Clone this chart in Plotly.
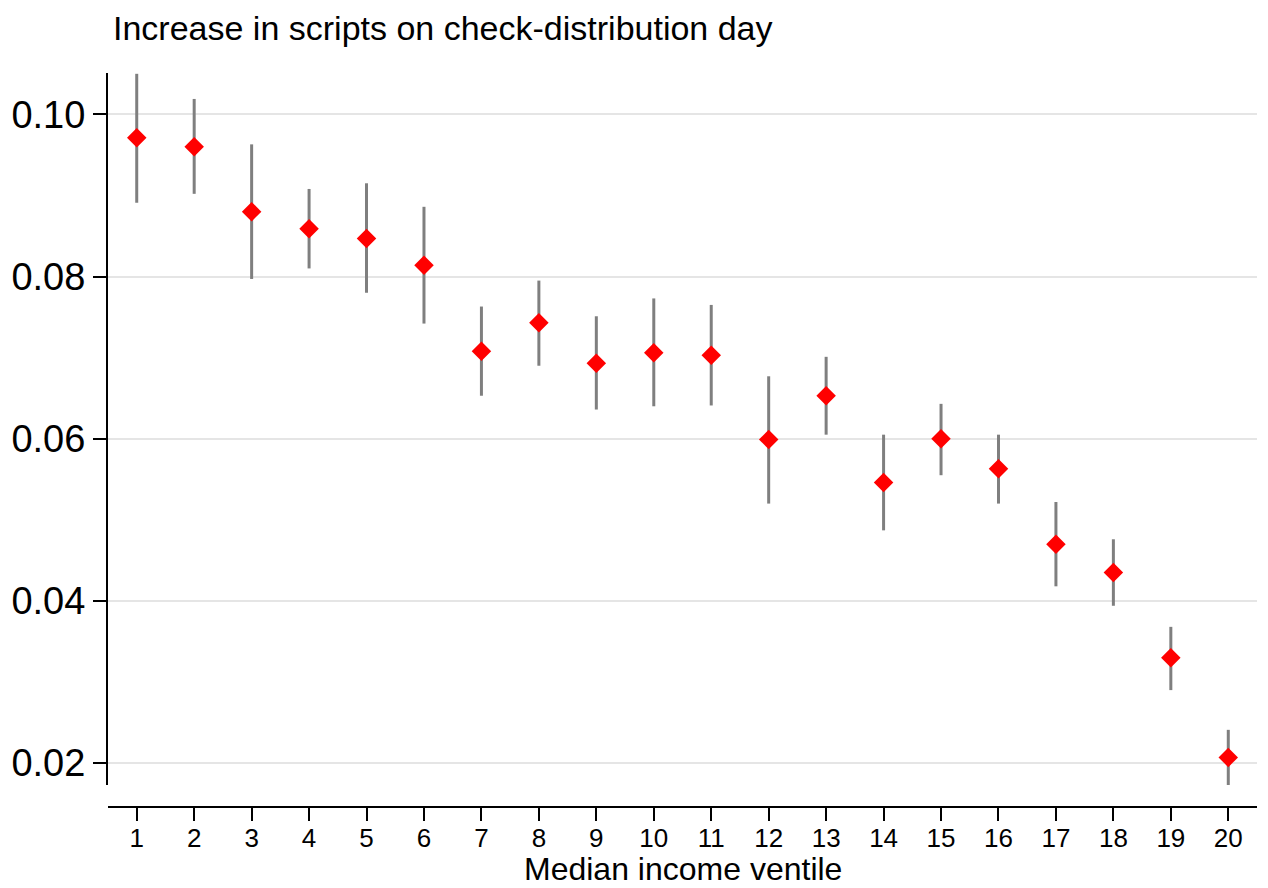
import plotly.graph_objects as go

# Data
ventiles = list(range(1, 21))
estimate = [0.0971, 0.0960, 0.0880, 0.0859, 0.0847, 0.0814, 0.0708, 0.0743, 0.0693, 0.0706,
            0.0703, 0.0599, 0.0653, 0.0546, 0.0600, 0.0563, 0.0470, 0.0435, 0.0330, 0.0207]
ci_low = [0.0891, 0.0902, 0.0797, 0.0810, 0.0780, 0.0742, 0.0653, 0.0690, 0.0636, 0.0640,
          0.0641, 0.0520, 0.0605, 0.0487, 0.0555, 0.0520, 0.0418, 0.0394, 0.0290, 0.0173]
ci_high = [0.1050, 0.1019, 0.0963, 0.0908, 0.0915, 0.0886, 0.0763, 0.0795, 0.0751, 0.0773,
           0.0765, 0.0677, 0.0701, 0.0605, 0.0643, 0.0605, 0.0522, 0.0476, 0.0368, 0.0241]
y_ticks = [0.02, 0.04, 0.06, 0.08, 0.10]
y_tick_labels = ["0.02", "0.04", "0.06", "0.08", "0.10"]

FONT = "Liberation Sans, Arial, Helvetica, sans-serif"

err_plus = [h - e for h, e in zip(ci_high, estimate)]
err_minus = [e - l for e, l in zip(estimate, ci_low)]

W, H = 1260, 880  # page body has an 8px margin

fig = go.Figure()
fig.add_trace(go.Scatter(
    x=ventiles, y=estimate, mode="markers",
    marker=dict(symbol="diamond", size=15, color="#ff0000", line=dict(width=0)),
    error_y=dict(type="data", symmetric=False, array=err_plus, arrayminus=err_minus,
                 color="#7f7f7f", thickness=3, width=0),
    showlegend=False,
))

fig.update_layout(
    width=W, height=H,
    paper_bgcolor="white", plot_bgcolor="white",
    margin=dict(l=100, r=11, t=65, b=81, autoexpand=False),
    font=dict(family=FONT, color="black"),
    title=dict(text="Increase in scripts on check-distribution day",
               x=105 / W, xref="container", xanchor="left",
               y=1 - 20 / H, yref="container", yanchor="middle",
               font=dict(family=FONT, size=34, color="black")),
    xaxis=dict(
        range=[0.5, 20.5], tickmode="array", tickvals=ventiles,
        ticktext=[str(v) for v in ventiles],
        showgrid=False, zeroline=False, automargin=False,
        showline=True, linecolor="black", linewidth=2,
        ticks="outside", ticklen=13, tickwidth=2, tickcolor="black",
        tickfont=dict(family=FONT, size=26, color="black"),
        ticklabelstandoff=-5,
        anchor="free", position=0,
    ),
    yaxis=dict(
        range=[0.0173, 0.1051], domain=[0.03, 1], automargin=False,
        tickmode="array", tickvals=y_ticks, ticktext=y_tick_labels,
        showgrid=True, gridcolor="#e5e5e5", gridwidth=2,
        zeroline=False,
        showline=True, linecolor="black", linewidth=2,
        ticks="outside", ticklen=13, tickwidth=2, tickcolor="black",
        tickfont=dict(family=FONT, size=38, color="black"),
    ),
    annotations=[dict(
        text="Median income ventile", xref="paper", yref="paper",
        x=0.5, y=-62 / 734, xanchor="center", yanchor="middle", showarrow=False,
        borderpad=0,
        font=dict(family=FONT, size=32, color="black"),
    )],
)

fig.write_html("out.html")
